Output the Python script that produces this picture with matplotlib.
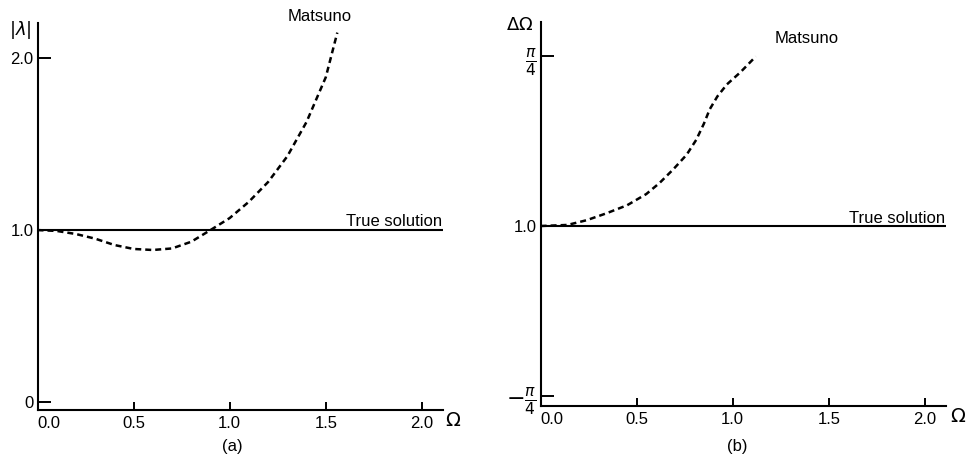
import numpy as np
import matplotlib
matplotlib.use("Agg")
import matplotlib.pyplot as plt

plt.rcParams['font.family'] = ['Liberation Sans', 'DejaVu Sans']
plt.rcParams['mathtext.fontset'] = 'dejavusans'

# (a) amplification factor |lambda| of the Matsuno scheme
omega_a = [0.0, 0.1, 0.2, 0.3, 0.4, 0.5, 0.6, 0.7, 0.8, 0.9,
           1.0, 1.1, 1.2, 1.3, 1.4, 1.5, 1.56]
lam_a = [1.0, 0.995, 0.977, 0.95, 0.913, 0.89, 0.884, 0.893, 0.932, 1.0,
         1.07, 1.165, 1.28, 1.43, 1.63, 1.89, 2.15]

# (b) phase error of the Matsuno scheme
omega_b = [0.0, 0.14, 0.24, 0.34, 0.45, 0.55, 0.62, 0.69, 0.76, 0.81,
           0.85, 0.88, 0.92, 0.97, 1.04, 1.12]
phase_b = [0.0, 0.005, 0.027, 0.058, 0.096, 0.148, 0.2, 0.262, 0.33, 0.399,
           0.474, 0.54, 0.6, 0.656, 0.712, 0.785]

true_x = [0.0, 2.11]
x_ticks = [0.0, 0.5, 1.0, 1.5, 2.0]
x_labels = ['0.0', '0.5', '1.0', '1.5', '2.0']
ya_ticks = [0.0, 1.0, 2.0]
ya_labels = ['0', '1.0', '2.0']
yb_ticks = [-np.pi / 4, 0.0, np.pi / 4]
yb_labels = [r'$-\frac{\pi}{4}$', '1.0', r'$\frac{\pi}{4}$']

W, H = 968, 463
fig = plt.figure(figsize=(W / 100, H / 100), dpi=100)


def px_axes(left, right, bottom, top):
    # axes box from pixel edges (measured from top-left)
    return fig.add_axes([left / W, 1 - bottom / H, (right - left) / W, (bottom - top) / H])


def style(ax):
    for s in ['top', 'right']:
        ax.spines[s].set_visible(False)
    for s in ['left', 'bottom']:
        ax.spines[s].set_linewidth(1.5)
    ax.tick_params(axis='x', direction='in', length=6, width=1.4, pad=5, labelsize=12)
    ax.tick_params(axis='y', direction='in', length=9, width=1.4, pad=3, labelsize=12)
    ax.set_xticks(x_ticks)
    ax.set_xticklabels(x_labels)
    ax.get_xticklabels()[0].set_ha('left')
    ax.set_xlim(0.0, 2.11)


dash = dict(color='black', lw=1.8, linestyle=(0, (2.4, 1.6)))

ax1 = px_axes(37.5, 443, 409.5, 23)
style(ax1)
ax1.set_ylim(-0.045, 2.206)
ax1.set_yticks(ya_ticks)
ax1.set_yticklabels(ya_labels)
ax1.plot(true_x, [1.0, 1.0], color='black', lw=1.5)
ax1.plot(omega_a, lam_a, **dash)
ax1.text(1.47, 2.246, 'Matsuno', fontsize=12, ha='center', va='center')
ax1.text(2.105, 1.052, 'True solution', fontsize=12, ha='right', va='center')

ax2 = px_axes(540.6, 946, 405.5, 21.7)
style(ax2)
ax2.set_ylim(-0.831, 0.946)
ax2.set_yticks(yb_ticks)
ax2.set_yticklabels(yb_labels)
for lab in ax2.get_yticklabels():
    if lab.get_text() != '1.0':
        lab.set_fontsize(16)
ax2.plot(true_x, [0.0, 0.0], color='black', lw=1.5)
ax2.plot(omega_b, phase_b, **dash)
ax2.text(1.386, 0.87, 'Matsuno', fontsize=12, ha='center', va='center')
ax2.text(2.105, 0.037, 'True solution', fontsize=12, ha='right', va='center')

fig.text(20 / W, 1 - 30 / H, r'$|\lambda|$', fontsize=13, ha='center', va='center')
fig.text(520 / W, 1 - 25 / H, r'$\Delta\Omega$', fontsize=13, ha='center', va='center')
fig.text(453 / W, 1 - 421 / H, r'$\Omega$', fontsize=14, ha='center', va='center')
fig.text(958 / W, 1 - 417 / H, r'$\Omega$', fontsize=14, ha='center', va='center')
fig.text(232 / W, 1 - 446 / H, '(a)', fontsize=12, ha='center', va='center')
fig.text(737 / W, 1 - 446 / H, '(b)', fontsize=12, ha='center', va='center')

fig.savefig('out.png', dpi=100)
